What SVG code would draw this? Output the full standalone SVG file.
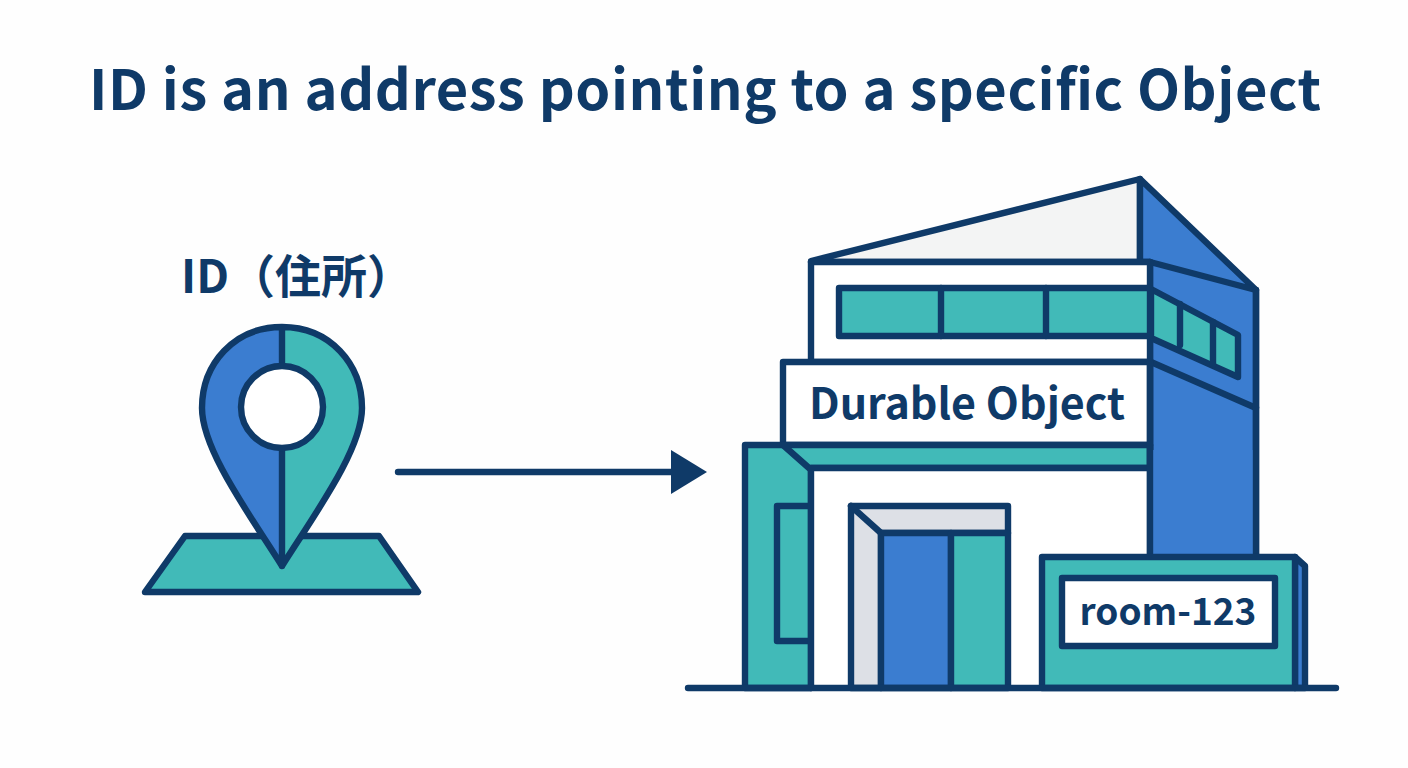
<svg xmlns="http://www.w3.org/2000/svg" width="1408" height="768" viewBox="0 0 1408 768">
<style>
.s{stroke:#0f3a68;stroke-width:6.4;stroke-linejoin:round;stroke-linecap:round}
.b{fill:#3b7dd0}.t{fill:#41bab8}.w{fill:#fff}.g{fill:#dde0e6}.n{fill:none}
text{font-family:"Noto Sans CJK JP","Noto Sans",sans-serif;font-weight:700;fill:#0f3a68}
</style>
<rect width="1408" height="768" fill="#fefefe"/>
<text id="title" x="705" y="110" font-size="56" text-anchor="middle" textLength="1232" lengthAdjust="spacing">ID is an address pointing to a specific Object</text>
<g id="pin">
<text x="181" y="293" font-size="46">ID（住所）</text>
<path class="s t" d="M185 536H379L418 592H145Z"/>
<path class="b" d="M282 327C234 327 202 364 202 408C202 450 250 515 282 566Z"/>
<path class="t" d="M282 327C330 327 362 364 362 408C362 450 314 515 282 566Z"/>
<path class="s n" d="M282 327C234 327 202 364 202 408C202 450 250 515 282 566C314 515 362 450 362 408C362 364 330 327 282 327ZM282 327V566"/>
<circle class="s w" cx="282" cy="407" r="41"/>
</g>
<g id="connectors">
<path class="s n" d="M398 472H680"/>
<path fill="#0f3a68" d="M671 450L707 472L671 494Z"/>
</g>
<g id="building">
<path class="s" fill="#f3f4f4" d="M811 261L1140 179V262H811Z"/>
<path class="s b" d="M1140 179L1256 290V556H1150V262H1140Z"/>
<path class="s n" d="M1150 262L1256 290M1151 362L1256 408"/>
<path class="s t" d="M1151 289L1238 335V377L1151 338Z"/>
<path class="s n" d="M1180 304V345M1213 322V365"/>
<rect class="s w" x="811" y="262" width="339" height="100"/>
<rect class="s t" x="839" y="288" width="311" height="48"/>
<path class="s n" d="M941 288V336M1046 288V336"/>
<rect class="s w" x="783" y="362" width="367" height="83"/>
<text x="967" y="419" font-size="43" text-anchor="middle">Durable Object</text>
<path class="s t" d="M745 445H1150V468H811V688H745Z"/>
<path class="s n" d="M783 445L809 468"/>
<path class="s n" d="M811 506H777V641H811"/>
<rect class="w" x="814" y="471" width="333" height="214"/>
<path class="s n" d="M811 468H1150M811 468V688M1150 445V556"/>
<rect class="b" x="1153" y="450" width="100" height="106"/>
<path class="s n" d="M1150 362V556M1256 290V556"/>
<path class="s g" d="M851 506H1008V533H881V688H851Z"/>
<path class="s n" d="M851 506L881 533"/>
<rect class="s b" x="881" y="533" width="70" height="155"/>
<rect class="s t" x="951" y="533" width="57" height="155"/>
<path class="s b" d="M1295 557L1305 566V688H1295Z"/>
<rect class="s t" x="1042" y="557" width="253" height="131"/>
<rect class="s w" x="1062" y="578" width="213" height="68"/>
<text x="1168" y="625" font-size="37" text-anchor="middle">room-123</text>
<path class="s n" d="M688 688H1336"/>
</g>
</svg>
